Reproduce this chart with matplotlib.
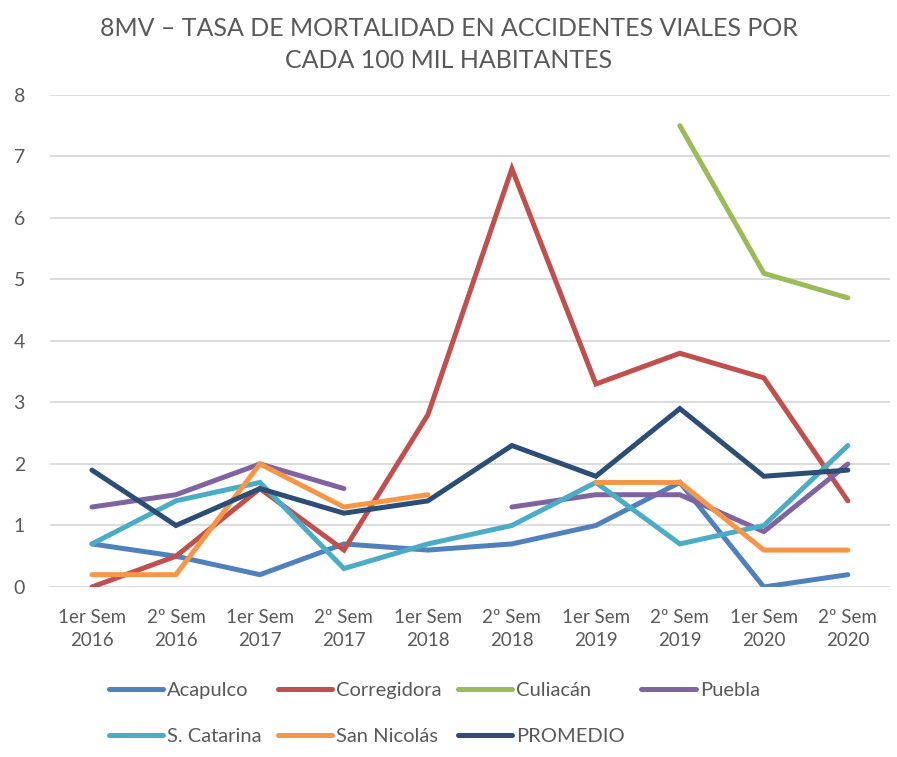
import numpy as np
import matplotlib.pyplot as plt

plt.rcParams['font.family'] = ['Lato', 'DejaVu Sans']

periods = ["1er Sem\n2016", "2º Sem\n2016", "1er Sem\n2017", "2º Sem\n2017",
           "1er Sem\n2018", "2º Sem\n2018", "1er Sem\n2019", "2º Sem\n2019",
           "1er Sem\n2020", "2º Sem\n2020"]
nan = np.nan
acapulco = [0.7, 0.5, 0.2, 0.7, 0.6, 0.7, 1.0, 1.7, 0.0, 0.2]
corregidora = [0.0, 0.5, 1.6, 0.6, 2.8, 6.8, 3.3, 3.8, 3.4, 1.4]
culiacan = [nan, nan, nan, nan, nan, nan, nan, 7.5, 5.1, 4.7]
puebla = [1.3, 1.5, 2.0, 1.6, nan, 1.3, 1.5, 1.5, 0.9, 2.0]
s_catarina = [0.7, 1.4, 1.7, 0.3, 0.7, 1.0, 1.7, 0.7, 1.0, 2.3]
san_nicolas = [0.2, 0.2, 2.0, 1.3, 1.5, nan, 1.7, 1.7, 0.6, 0.6]
promedio = [1.9, 1.0, 1.6, 1.2, 1.4, 2.3, 1.8, 2.9, 1.8, 1.9]

series = [
    ("Acapulco", acapulco, "#4F81BD"),
    ("Corregidora", corregidora, "#C0504D"),
    ("Culiacán", culiacan, "#9BBB59"),
    ("Puebla", puebla, "#8064A2"),
    ("S. Catarina", s_catarina, "#4BACC6"),
    ("San Nicolás", san_nicolas, "#F79646"),
    ("PROMEDIO", promedio, "#2C4D75"),
]

fig = plt.figure(figsize=(8.97, 7.57), dpi=100)
ax = fig.add_axes([0.0557, 0.2246, 0.9363, 0.65])

x = np.arange(len(periods))
handles = {}
for name, vals, color in series:
    ln, = ax.plot(x, vals, color=color, lw=3.6, solid_capstyle='round',
                  solid_joinstyle='miter', label=name)
    handles[name] = ln

ax.set_xlim(-0.5, len(periods) - 0.5)
ax.set_ylim(0, 8)
ax.set_yticks(range(0, 9))
ax.set_xticks(x, labels=periods)
ax.tick_params(length=0, labelsize=14, colors="#595959")
ax.tick_params(axis='x', pad=16, labelsize=13.5)
ax.tick_params(axis='y', pad=18)
for lab in ax.get_xticklabels():
    lab.set_linespacing(1.4)
ax.grid(axis='y', color="#D9D9D9", lw=1.3)
ax.set_axisbelow(True)
for s in ax.spines.values():
    s.set_visible(False)

fig.suptitle("8MV – TASA DE MORTALIDAD EN ACCIDENTES VIALES POR\nCADA 100 MIL HABITANTES",
             y=0.978, fontsize=18, color="#595959", linespacing=1.5)

order = ["Acapulco", "S. Catarina", "Corregidora", "San Nicolás",
         "Culiacán", "PROMEDIO", "Puebla"]
fig.legend([handles[n] for n in order], order, ncol=4, loc='lower left',
           bbox_to_anchor=(0.108, 0.0), frameon=False, fontsize=14.5,
           handlelength=2.7, handletextpad=0.2, columnspacing=0.8,
           labelspacing=1.45, labelcolor="#595959", borderaxespad=0.2)

fig.savefig("out.png", dpi=100)
